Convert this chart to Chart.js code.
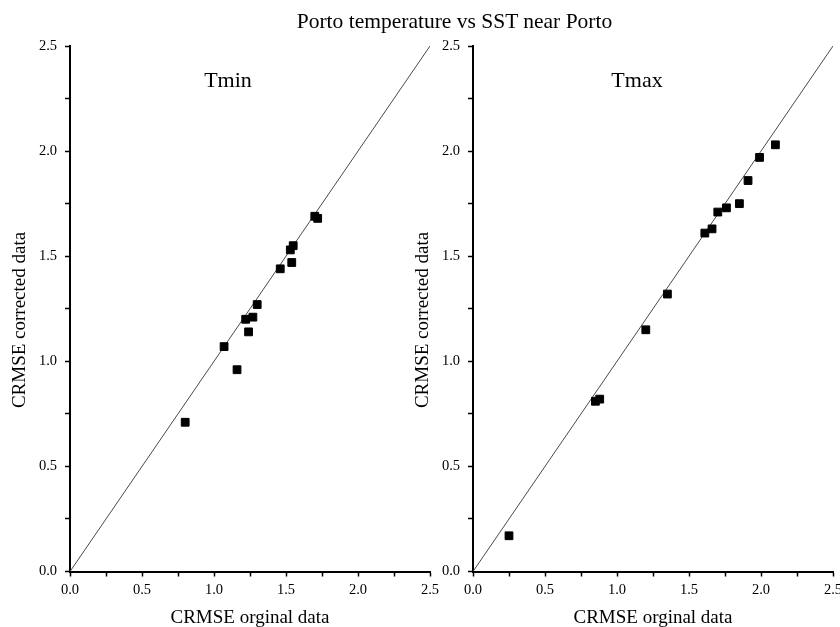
<!DOCTYPE html>
<html>
<head>
<meta charset="utf-8">
<script src="https://cdn.jsdelivr.net/npm/chart.js@4/dist/chart.umd.min.js"></script>
<style>
  html, body { margin: 0; padding: 0; background: #fff; overflow: hidden; }
  #wrap { position: relative; width: 840px; height: 627px; overflow: hidden; background: #fff; }
  canvas { position: absolute; top: 0; }
  #c1 { left: 0; }
  #c2 { left: 403px; }
  #mainTitle { position: absolute; left: 0; width: 909px; top: 11px; text-align: center;
    font: 21.5px "Liberation Serif", "Times New Roman", serif; line-height: 21px; color: #000; white-space: nowrap; }
</style>
</head>
<body>
<div id="wrap">
  <canvas id="c1" width="450" height="627"></canvas>
  <canvas id="c2" width="450" height="627"></canvas>
  <div id="mainTitle">Porto temperature vs SST near Porto</div>
</div>
<script>
// ---- data ----
const tminOriginal  = [0.80, 1.07, 1.16, 1.24, 1.22, 1.27, 1.30, 1.46, 1.54, 1.53, 1.55, 1.70, 1.72];
const tminCorrected = [0.71, 1.07, 0.96, 1.14, 1.20, 1.21, 1.27, 1.44, 1.47, 1.53, 1.55, 1.69, 1.68];
const tmaxOriginal  = [0.25, 0.85, 0.88, 1.20, 1.35, 1.61, 1.66, 1.70, 1.76, 1.85, 1.91, 1.99, 2.10];
const tmaxCorrected = [0.17, 0.81, 0.82, 1.15, 1.32, 1.61, 1.63, 1.71, 1.73, 1.75, 1.86, 1.97, 2.03];
const identityLine  = [0, 2.5];
const axisMin = 0, axisMax = 2.5, minorStep = 0.25, majorStep = 0.5;
const xTitle = 'CRMSE orginal data';
const yTitle = 'CRMSE corrected data';
const panelTitles = ['Tmin', 'Tmax'];

Chart.defaults.color = '#000';
Chart.defaults.font.family = '"Liberation Serif", "Times New Roman", serif';

const textPlugin = {
  id: 'textLabels',
  afterDraw(chart, args, opts) {
    const ctx = chart.ctx;
    const area = chart.chartArea;
    ctx.save();
    ctx.fillStyle = '#000';
    ctx.textBaseline = 'alphabetic';
    ctx.textAlign = 'center';
    ctx.font = '22px "Liberation Serif", "Times New Roman", serif';
    ctx.fillText(opts.panel, area.left + opts.panelDx, 87);
    ctx.font = '19px "Liberation Serif", "Times New Roman", serif';
    ctx.fillText(xTitle, (area.left + area.right) / 2, 623);
    ctx.save();
    ctx.translate(area.left - 45, 320);
    ctx.rotate(-Math.PI / 2);
    ctx.fillText(yTitle, 0, 0);
    ctx.restore();
    ctx.restore();
  }
};

function makeChart(id, xs, ys, panel, panelDx) {
  const pts = xs.map((x, i) => ({ x: x, y: ys[i] }));
  const line = identityLine.map(v => ({ x: v, y: v }));
  const tickCb = v => (Math.abs(Math.round(v / majorStep) * majorStep - v) < 1e-6) ? v.toFixed(1) : '';
  return new Chart(document.getElementById(id), {
    type: 'scatter',
    data: {
      datasets: [
        { type: 'line', data: line, borderColor: '#4a4a4a', borderWidth: 1, pointRadius: 0, fill: false, order: 2 },
        { data: pts, pointStyle: 'rect', pointRadius: 5.5, backgroundColor: '#000', borderColor: '#000', borderWidth: 1, order: 1 }
      ]
    },
    options: {
      responsive: false,
      animation: false,
      events: [],
      layout: { padding: { top: 46, right: 20, bottom: 0, left: 0 } },
      plugins: {
        legend: { display: false },
        tooltip: { enabled: false },
        textLabels: { panel: panel, panelDx: panelDx }
      },
      scales: {
        x: {
          type: 'linear', min: axisMin, max: axisMax,
          afterFit: s => { s.height = 55.5; },
          ticks: { stepSize: minorStep, autoSkip: false, maxRotation: 0, padding: 5, callback: tickCb,
                   font: { size: 14.5 }, color: '#000' },
          grid: { drawOnChartArea: false, drawTicks: true, tickLength: 5, tickColor: '#000', tickWidth: 1.5 },
          border: { display: true, color: '#000', width: 2 }
        },
        y: {
          type: 'linear', min: axisMin, max: axisMax,
          afterFit: s => { s.width = 70; },
          ticks: { stepSize: minorStep, autoSkip: false, padding: 8, callback: tickCb,
                   font: { size: 14.5 }, color: '#000' },
          grid: { drawOnChartArea: false, drawTicks: true, tickLength: 5, tickColor: '#000', tickWidth: 1.5 },
          border: { display: true, color: '#000', width: 2 }
        }
      }
    },
    plugins: [textPlugin]
  });
}

makeChart('c1', tminOriginal, tminCorrected, panelTitles[0], 158);
makeChart('c2', tmaxOriginal, tmaxCorrected, panelTitles[1], 164);
</script>
</body>
</html>
